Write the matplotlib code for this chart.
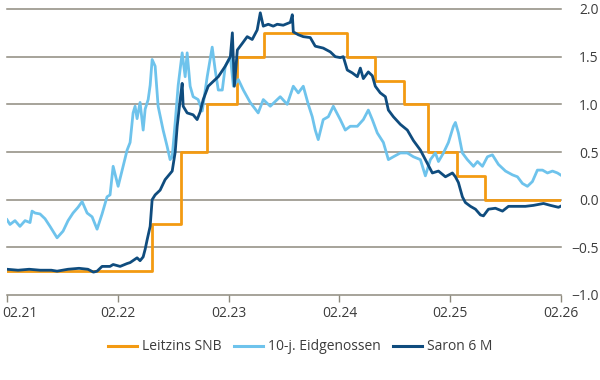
import matplotlib
matplotlib.use("Agg")
import matplotlib.pyplot as plt
import matplotlib.transforms as mtrans
import numpy as np

# time axis: years since 02.2021
tick_labels = ["02.21", "02.22", "02.23", "02.24", "02.25", "02.26"]

snb_t = [0.000, 1.310, 1.572, 1.807, 2.079, 2.322, 3.071, 3.324, 3.586, 3.803, 4.065, 4.318, 4.995]
snb_v = [-0.75, -0.25, 0.50, 1.00, 1.50, 1.75, 1.50, 1.25, 1.00, 0.50, 0.25, 0.00, 0.00]

eid_t = [0.000, 0.027, 0.072, 0.117, 0.163, 0.208, 0.226, 0.253, 0.298, 0.343, 0.388, 0.452,
         0.506, 0.551, 0.596, 0.641, 0.678, 0.723, 0.768, 0.813, 0.858, 0.903, 0.930, 0.958,
         1.003, 1.048, 1.084, 1.111, 1.138, 1.156, 1.174, 1.201, 1.229, 1.247, 1.274, 1.292,
         1.310, 1.337, 1.364, 1.409, 1.445, 1.472, 1.491, 1.518, 1.545, 1.581, 1.608, 1.626,
         1.653, 1.680, 1.725, 1.762, 1.807, 1.852, 1.879, 1.907, 1.943, 1.970, 2.016, 2.043,
         2.088, 2.133, 2.195, 2.267, 2.313, 2.376, 2.439, 2.466, 2.529, 2.584, 2.629, 2.674,
         2.719, 2.755, 2.782, 2.809, 2.854, 2.900, 2.945, 3.008, 3.053, 3.098, 3.162, 3.216,
         3.261, 3.297, 3.342, 3.397, 3.442, 3.487, 3.550, 3.613, 3.668, 3.731, 3.776, 3.821,
         3.866, 3.894, 3.939, 3.984, 4.029, 4.047, 4.074, 4.110, 4.155, 4.210, 4.246, 4.291,
         4.336, 4.381, 4.435, 4.499, 4.562, 4.607, 4.652, 4.697, 4.742, 4.787, 4.833, 4.878,
         4.923, 4.968, 4.995]
eid_v = [-0.21, -0.26, -0.22, -0.28, -0.22, -0.24, -0.12, -0.14, -0.15, -0.20, -0.28, -0.40,
         -0.33, -0.22, -0.14, -0.08, -0.02, -0.14, -0.18, -0.31, -0.15, 0.03, 0.05, 0.35,
         0.14, 0.35, 0.52, 0.60, 0.91, 0.98, 0.85, 1.02, 0.73, 0.95, 1.05, 1.20,
         1.47, 1.40, 0.98, 0.73, 0.56, 0.42, 0.45, 0.81, 1.20, 1.54, 1.29, 1.54,
         1.19, 1.08, 1.05, 0.93, 1.29, 1.60, 1.36, 1.15, 1.15, 1.40, 1.50, 1.19,
         1.26, 1.15, 1.02, 0.91, 1.05, 0.98, 1.05, 1.08, 1.00, 1.19, 1.12, 1.19,
         1.00, 0.87, 0.73, 0.63, 0.84, 0.87, 0.98, 0.84, 0.73, 0.77, 0.77, 0.84,
         0.94, 0.84, 0.70, 0.60, 0.42, 0.45, 0.49, 0.49, 0.45, 0.42, 0.25, 0.42,
         0.49, 0.40, 0.49, 0.60, 0.77, 0.81, 0.70, 0.49, 0.42, 0.35, 0.40, 0.35,
         0.45, 0.47, 0.37, 0.30, 0.26, 0.24, 0.17, 0.14, 0.19, 0.31, 0.31, 0.28,
         0.30, 0.28, 0.26]

sar_t = [0.000, 0.100, 0.200, 0.300, 0.400, 0.452, 0.550, 0.650, 0.730, 0.780, 0.813, 0.858,
         0.930, 0.958, 1.021, 1.084, 1.111, 1.174, 1.201, 1.229, 1.247, 1.265, 1.292, 1.310,
         1.337, 1.382, 1.427, 1.491, 1.518, 1.536, 1.563, 1.581, 1.590, 1.626, 1.680, 1.716,
         1.743, 1.771, 1.816, 1.861, 1.907, 1.970, 2.016, 2.034, 2.052, 2.079, 2.124, 2.168,
         2.213, 2.258, 2.286, 2.313, 2.358, 2.403, 2.439, 2.493, 2.557, 2.575, 2.584, 2.629,
         2.674, 2.737, 2.782, 2.854, 2.918, 2.963, 3.008, 3.035, 3.071, 3.116, 3.162, 3.189,
         3.216, 3.261, 3.297, 3.324, 3.369, 3.415, 3.442, 3.487, 3.550, 3.613, 3.668, 3.731,
         3.794, 3.839, 3.894, 3.957, 4.020, 4.047, 4.074, 4.110, 4.137, 4.183, 4.228, 4.273,
         4.300, 4.345, 4.408, 4.472, 4.526, 4.607, 4.679, 4.751, 4.842, 4.905, 4.977, 4.995]
sar_v = [-0.73, -0.74, -0.73, -0.74, -0.74, -0.75, -0.73, -0.72, -0.73, -0.76, -0.75, -0.70,
         -0.70, -0.68, -0.70, -0.67, -0.66, -0.61, -0.64, -0.60, -0.52, -0.42, -0.28, 0.00,
         0.05, 0.10, 0.21, 0.30, 0.50, 0.77, 1.05, 1.22, 0.98, 0.91, 0.89, 0.84,
         0.92, 1.05, 1.19, 1.24, 1.29, 1.40, 1.50, 1.75, 1.19, 1.57, 1.64, 1.71,
         1.68, 1.78, 1.96, 1.82, 1.84, 1.82, 1.84, 1.83, 1.86, 1.94, 1.76, 1.73,
         1.71, 1.70, 1.61, 1.59, 1.55, 1.50, 1.49, 1.50, 1.36, 1.33, 1.29, 1.38,
         1.27, 1.34, 1.30, 1.19, 1.12, 1.08, 0.94, 0.87, 0.79, 0.73, 0.62, 0.52,
         0.38, 0.28, 0.30, 0.24, 0.28, 0.24, 0.18, 0.03, -0.03, -0.07, -0.10, -0.16,
         -0.17, -0.10, -0.09, -0.12, -0.07, -0.07, -0.07, -0.06, -0.04, -0.06, -0.08, -0.07]

labels = ["Leitzins SNB", "10-j. Eidgenossen", "Saron 6 M"]
c_orange = "#F39A12"
c_light = "#6EC3EC"
c_dark = "#0F4C7E"
c_grid = "#8E8A7E"
c_text = "#3C3C3C"

plt.rcParams['font.family'] = ['Open Sans', 'DejaVu Sans']

fig = plt.figure(figsize=(6, 3.8), dpi=100)
ax = fig.add_axes([7/600, 1 - 295/380, (561 - 7)/600, (295 - 9)/380])

ax.plot(snb_t, snb_v, drawstyle='steps-post', color=c_orange, lw=2.0, label=labels[0], zorder=3)
ax.plot(eid_t, eid_v, color=c_light, lw=2.0, label=labels[1], zorder=4)
ax.plot(sar_t, sar_v, color=c_dark, lw=2.0, label=labels[2], zorder=5)

ax.set_xlim(0, 5)
ax.set_ylim(-1.0, 2.0)
yt = np.arange(-1.0, 2.01, 0.5)
ax.set_yticks(yt)
ax.set_yticklabels([f"{v:.1f}".replace("-", "\u2212") for v in yt])
ax.yaxis.tick_right()
ax.tick_params(axis='y', length=0, pad=27, labelsize=10, labelcolor=c_text)
for lab in ax.get_yticklabels():
    lab.set_horizontalalignment('right')
ax.set_xticks(range(6))
ax.set_xticklabels(tick_labels)
ax.tick_params(axis='x', length=5, width=1, color=c_grid, labelsize=10, labelcolor=c_text, pad=3)
first = ax.get_xticklabels()[0]
first.set_horizontalalignment('left')
first.set_transform(first.get_transform() + mtrans.ScaledTranslation(-5/100, 0, fig.dpi_scale_trans))

for v in yt:
    ax.axhline(v, color=c_grid, lw=1.1, zorder=1, clip_on=False)
for s in ax.spines.values():
    s.set_visible(False)

leg = fig.legend(loc='center', bbox_to_anchor=(0.5, 1 - 347/380), ncol=3, frameon=False,
                 fontsize=10, handlelength=2.1, handletextpad=0.35, columnspacing=0.9,
                 labelcolor=c_text)
for h in leg.legend_handles:
    h.set_linewidth(2.2)

fig.savefig("out.png", dpi=100)
